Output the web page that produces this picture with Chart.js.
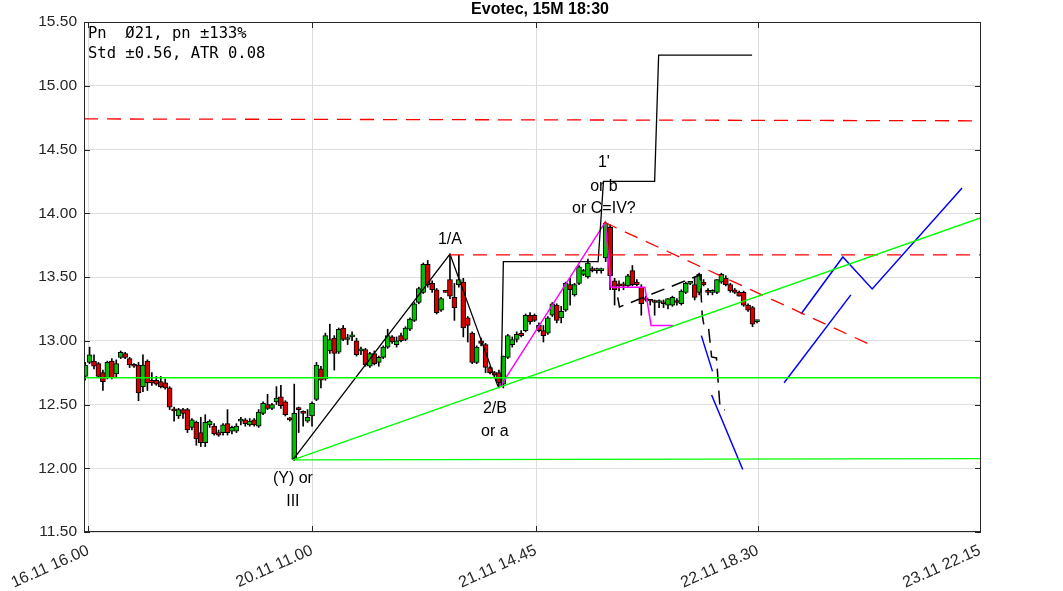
<!DOCTYPE html>
<html><head><meta charset="utf-8">
<script src="https://cdn.jsdelivr.net/npm/chart.js@4.4.1/dist/chart.umd.min.js"></script>
<style>html,body{margin:0;padding:0;background:#fff}#wrap{width:1063px;height:591px}</style>
</head><body><div id="wrap"><canvas id="c" width="1063" height="591"></canvas></div>
<script>
// ---- candle data (15M bars, index order) ----
const opens=[12.72,12.83,12.84,12.82,12.75,12.71,12.84,12.74,12.87,12.90,12.86,12.81,12.81,12.64,12.84,12.69,12.69,12.68,12.67,12.63,
12.46,12.41,12.46,12.46,12.32,12.36,12.28,12.20,12.34,12.33,12.28,12.28,12.35,12.29,12.29,12.37,12.38,12.34,12.38,12.33,
12.43,12.50,12.47,12.52,12.56,12.52,12.39,12.07,12.47,12.44,12.37,12.41,12.54,12.78,12.70,12.92,13.02,12.91,13.10,13.01,
13.03,13.00,12.92,12.93,12.80,12.90,12.83,12.87,12.95,13.03,12.97,13.04,13.01,13.09,13.16,13.30,13.38,13.60,13.45,13.40,
13.24,13.39,13.48,13.34,13.44,13.46,13.18,13.06,12.83,13.00,12.97,12.79,12.75,12.75,12.66,12.87,12.97,13.01,13.06,13.08,
13.20,13.20,13.12,13.08,13.06,13.20,13.28,13.18,13.24,13.44,13.36,13.45,13.52,13.50,13.56,13.55,13.55,13.65,13.89,13.47,
13.44,13.44,13.43,13.55,13.46,13.42,13.33,13.32,13.31,13.30,13.30,13.28,13.28,13.31,13.29,13.38,13.45,13.44,13.38,13.46,
13.39,13.38,13.38,13.46,13.49,13.44,13.40,13.38,13.38,13.28,13.26,13.15];
const highs=[12.83,12.95,12.89,12.83,12.77,12.84,12.86,12.85,12.92,12.91,12.87,12.82,12.83,12.89,12.85,12.75,12.72,12.72,12.70,12.64,
12.48,12.47,12.47,12.47,12.39,12.37,12.40,12.42,12.38,12.35,12.30,12.35,12.46,12.33,12.35,12.40,12.39,12.39,12.39,12.46,
12.52,12.58,12.51,12.64,12.65,12.53,12.40,12.66,12.48,12.45,12.46,12.52,12.83,12.80,13.06,13.13,13.04,13.10,13.12,13.05,
13.07,13.02,12.95,12.94,12.91,12.92,12.88,12.96,13.09,13.04,13.03,13.06,13.11,13.18,13.30,13.42,13.61,13.63,13.47,13.41,
13.34,13.39,13.68,13.45,13.67,13.49,13.19,13.07,12.96,13.02,12.98,12.80,12.76,12.77,12.88,13.05,13.03,13.07,13.08,13.21,
13.22,13.21,13.14,13.12,13.19,13.30,13.29,13.27,13.46,13.49,13.45,13.59,13.56,13.64,13.58,13.57,13.57,13.93,13.91,13.49,
13.47,13.46,13.52,13.59,13.48,13.44,13.35,13.32,13.32,13.32,13.32,13.33,13.35,13.33,13.40,13.46,13.46,13.50,13.53,13.48,
13.41,13.40,13.48,13.53,13.51,13.45,13.41,13.39,13.39,13.29,13.27,13.16];
const lows=[12.69,12.82,12.78,12.71,12.61,12.70,12.70,12.71,12.86,12.86,12.79,12.79,12.53,12.60,12.61,12.65,12.65,12.63,12.62,12.46,
12.37,12.39,12.39,12.28,12.30,12.18,12.17,12.17,12.32,12.26,12.25,12.26,12.26,12.27,12.28,12.34,12.33,12.33,12.33,12.32,
12.42,12.46,12.46,12.50,12.47,12.41,12.37,12.06,12.28,12.33,12.36,12.33,12.53,12.63,12.69,12.90,12.77,12.90,13.00,12.97,
13.00,12.88,12.89,12.80,12.79,12.81,12.80,12.86,12.94,12.98,12.95,12.99,13.00,13.08,13.15,13.29,13.37,13.42,13.38,13.21,
13.23,13.38,13.33,13.16,13.42,13.03,12.99,12.82,12.82,12.96,12.75,12.74,12.72,12.63,12.63,12.86,12.95,12.99,13.03,13.07,
13.13,13.15,13.07,12.99,13.05,13.19,13.14,13.14,13.23,13.28,13.35,13.44,13.51,13.49,13.54,13.53,13.53,13.62,13.40,13.28,
13.39,13.40,13.42,13.43,13.43,13.20,13.31,13.28,13.20,13.26,13.26,13.25,13.27,13.28,13.28,13.37,13.44,13.32,13.36,13.43,
13.36,13.36,13.37,13.45,13.43,13.38,13.37,13.35,13.27,13.23,13.11,13.14];
const closes=[12.81,12.89,12.80,12.72,12.68,12.83,12.71,12.82,12.91,12.87,12.81,12.80,12.59,12.81,12.67,12.67,12.66,12.64,12.63,12.48,
12.45,12.46,12.43,12.30,12.38,12.23,12.20,12.36,12.37,12.27,12.26,12.34,12.28,12.32,12.33,12.38,12.35,12.37,12.34,12.44,
12.51,12.47,12.50,12.55,12.49,12.42,12.38,12.43,12.46,12.43,12.40,12.51,12.81,12.69,13.04,13.01,12.90,13.09,13.01,13.02,
13.04,12.89,12.93,12.81,12.90,12.82,12.87,12.95,13.04,12.99,13.00,13.00,13.10,13.17,13.29,13.41,13.60,13.44,13.40,13.22,
13.33,13.38,13.35,13.26,13.48,13.10,13.12,12.83,12.95,12.98,12.79,12.75,12.73,12.67,12.88,13.04,13.01,13.05,13.04,13.20,
13.15,13.16,13.08,13.04,13.18,13.29,13.16,13.23,13.45,13.40,13.44,13.58,13.55,13.61,13.55,13.55,13.56,13.92,13.51,13.40,
13.43,13.43,13.51,13.44,13.44,13.29,13.32,13.31,13.30,13.30,13.29,13.33,13.34,13.30,13.39,13.45,13.45,13.34,13.52,13.44,
13.38,13.38,13.48,13.52,13.44,13.39,13.38,13.35,13.28,13.24,13.13,13.15];

// ---- x axis ticks (bar positions) and labels ----
const tickBars=[0.7,51.0,101.3,151.2,201.1];
const tickLabels=['16.11 16.00','20.11 11.00','21.11 14.45','22.11 18.30','23.11 22.15'];
const xMin=-0.25, xMax=201.35;

// ---- overlay lines (bar index, price) ----
const waveBlack=[[46.7,12.065],[82.0,13.68],[92.8,12.64]];
const stepBlack=[[93.5,12.65],[94.0,13.62],[115.3,13.62],[116.5,14.25],[128.0,14.25],[128.9,15.24],[149.9,15.24]];
const wavePurple=[[93.3,12.64],[116.9,13.93],[118.2,13.42],[125.8,13.42],[127.2,13.12],[132.1,13.12]];
const forecastBlackDash=[[119.7,13.34],[120.1,13.265],[138.2,13.516],[138.7,13.20],[139.1,13.116],[140.1,13.108],[140.8,12.873],[141.9,12.865],[142.7,12.473],[143.8,12.457]];
const redTop=[[xMin,14.74],[xMax,14.725]];
const redMid=[[82.0,13.673],[xMax,13.673]];
const redFall=[[116.6,13.93],[176.4,12.97]];
const greenFlat=[[xMin,12.71],[xMax,12.71]];
const greenLow=[[46.7,12.065],[xMax,12.075]];
const greenRise=[[46.7,12.065],[xMax,13.965]];
const blue1=[[138.5,13.04],[141.0,12.76]];
const blue2=[[140.8,12.574],[147.8,11.99]];
const blue3=[[157.1,12.67],[172.1,13.36]];
const blue4=[[160.9,13.21],[170.3,13.657],[176.9,13.406],[197.1,14.198]];

// ---- annotations ----
const notes=[
 ['1/A',82.0,13.79],['2/B',92.1,12.465],['or a',92.1,12.285],
 ['(Y) or',46.7,11.92],['III',46.7,11.74],
 ["1'",116.6,14.40],['or b',116.6,14.21],['or C=IV?',116.6,14.04]
];
const titleText='Evotec, 15M 18:30';
const infoLines=['Pn  \u00D821, pn \u00B1133%','Std \u00B10.56, ATR 0.08'];

const idx=opens.map((_,i)=>i);
const wickData=idx.map(i=>({x:i,y:[lows[i],highs[i]]}));
const bodyData=idx.map(i=>({x:i,y:[Math.min(opens[i],closes[i]),Math.max(opens[i],closes[i])]}));
const bodyColors=idx.map(i=>closes[i]>=opens[i]?'#00c000':'#d40000');
const pts=a=>a.map(p=>({x:p[0],y:p[1]}));
function line(data,color,dash,w){return {type:'line',data:pts(data),borderColor:color,borderWidth:w||1.3,borderDash:dash||[],pointRadius:0,fill:false,tension:0,order:0};}

const vgrid={id:'vgrid',
 beforeDatasetsDraw(chart){
  const {ctx,chartArea:a,scales:{x}}=chart;
  ctx.save();ctx.strokeStyle='#dedede';ctx.lineWidth=1;ctx.beginPath();
  tickBars.forEach(v=>{const px=Math.round(x.getPixelForValue(v))+0.5;ctx.moveTo(px,a.top);ctx.lineTo(px,a.bottom);});
  ctx.stroke();ctx.restore();
 }};
const overlay={id:'overlay',
 afterDraw(chart){
  const {ctx,chartArea:a,scales:{x,y}}=chart;
  ctx.save();
  ctx.strokeStyle='#262626';ctx.lineWidth=1;
  ctx.strokeRect(a.left+0.5,a.top+0.5,a.right-a.left-1,a.bottom-a.top-1);
  ctx.beginPath();
  y.ticks.forEach(t=>{const py=Math.round(y.getPixelForValue(t.value))+0.5;ctx.moveTo(a.left,py);ctx.lineTo(a.left+6,py);ctx.moveTo(a.right,py);ctx.lineTo(a.right-6,py);});
  tickBars.forEach(v=>{const px=Math.round(x.getPixelForValue(v))+0.5;ctx.moveTo(px,a.bottom);ctx.lineTo(px,a.bottom-6);ctx.moveTo(px,a.top);ctx.lineTo(px,a.top+6);});
  ctx.stroke();
  ctx.fillStyle='#000';ctx.font='16px "Liberation Sans", Arial, sans-serif';ctx.textAlign='center';ctx.textBaseline='middle';
  notes.forEach(n=>ctx.fillText(n[0],x.getPixelForValue(n[1]),y.getPixelForValue(n[2])));
  ctx.font='bold 16px "Liberation Sans", Arial, sans-serif';
  ctx.fillText(titleText,540,10);
  ctx.font='15.5px "DejaVu Sans Mono", monospace';ctx.textAlign='left';ctx.textBaseline='alphabetic';
  ctx.fillText(infoLines[0],a.left+4,a.top+16);
  ctx.fillText(infoLines[1],a.left+4,a.top+36);
  ctx.restore();
 }};

new Chart(document.getElementById('c'),{
 type:'bar',
 data:{datasets:[
  line(greenRise,'#00ff00'),line(greenFlat,'#00ff00'),line(greenLow,'#00ff00'),
  line(redTop,'#ff0000',[14,9]),line(redMid,'#ff0000',[14,9]),line(redFall,'#ff0000',[14,9]),
  line(waveBlack,'#000000'),line(stepBlack,'#000000'),line(wavePurple,'#ff00ff',[],1.5),
  line(forecastBlackDash,'#000000',[14,8],1.5),
  line(blue1,'#0000ff',[],1.5),line(blue2,'#0000ff',[],1.5),line(blue3,'#0000ff',[],1.5),line(blue4,'#0000ff',[],1.5),
  {type:'bar',data:bodyData,backgroundColor:bodyColors,borderColor:'#000',borderWidth:1,borderSkipped:false,barThickness:5,grouped:false,minBarLength:2,order:1},
  {type:'bar',data:wickData,backgroundColor:'#000',borderWidth:0,barThickness:1,grouped:false,order:2}
 ]},
 options:{
  responsive:false,animation:false,devicePixelRatio:1,
  layout:{padding:{top:22,right:82,left:0,bottom:0}},
  plugins:{legend:{display:false},tooltip:{enabled:false},title:{display:false}},
  scales:{
   x:{type:'linear',min:xMin,max:xMax,offset:false,
      afterBuildTicks:s=>{s.ticks=tickBars.map(v=>({value:v}));},
      afterFit:s=>{s.height=59;},
      grid:{display:false,drawTicks:false},border:{display:false},
      ticks:{autoSkip:false,minRotation:24,maxRotation:24,padding:9,color:'#262626',
        font:{family:'"Liberation Sans", Arial, sans-serif',size:16},
        callback:(v,i)=>tickLabels[i]}},
   y:{type:'linear',min:11.5,max:15.5,
      afterFit:s=>{s.width=84;},
      grid:{color:'#dedede',drawTicks:false},border:{display:false},
      ticks:{stepSize:0.5,padding:7,color:'#262626',
        font:{family:'"Liberation Sans", Arial, sans-serif',size:15.5},
        callback:v=>v.toFixed(2)}}
  }
 },
 plugins:[vgrid,overlay]
});
</script></body></html>
